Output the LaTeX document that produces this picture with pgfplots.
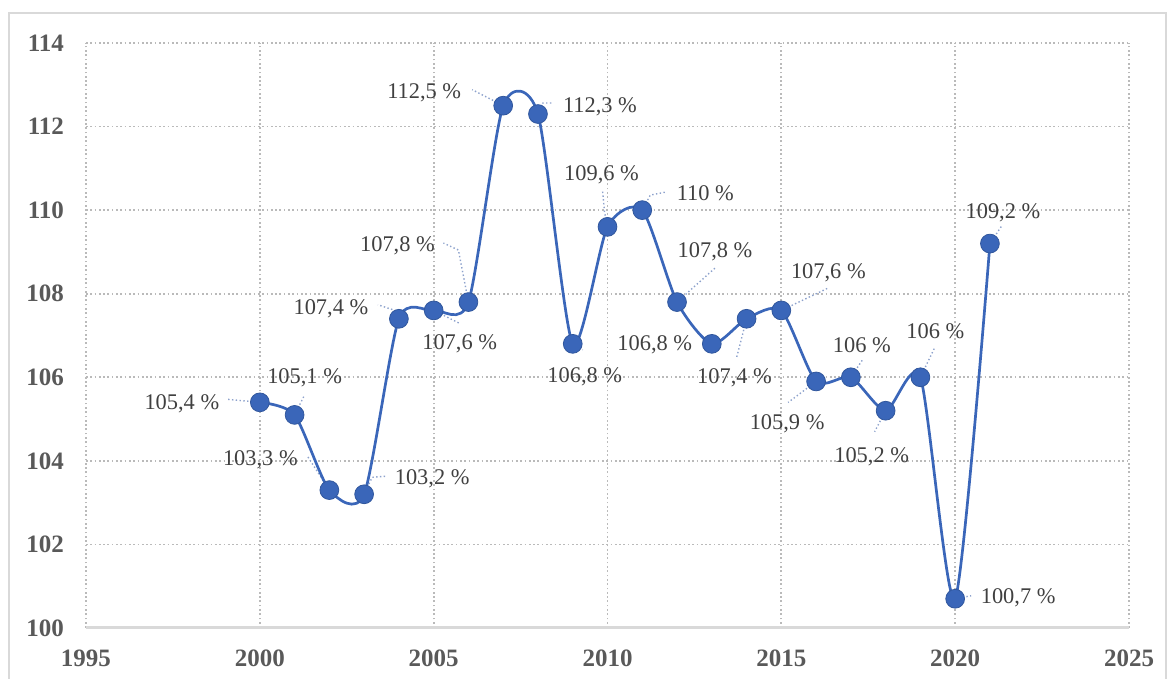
\documentclass[border=0pt]{standalone}
\usepackage{fontspec}
\setmainfont{Liberation Serif}
\usepackage{pgfplots}
\pgfplotsset{compat=1.18}
\definecolor{mblue}{HTML}{3A66B9}
\definecolor{tickgray}{HTML}{595959}
\definecolor{labgray}{HTML}{404040}
\definecolor{gridgray}{HTML}{BABABA}
\definecolor{leadc}{HTML}{8DA2CC}
\tikzset{
  lab/.style={font=\fontsize{11.2}{13}\selectfont, text=labgray, inner sep=0pt},
  leader/.style={color=leadc, line width=0.7pt, dash pattern=on 0.7pt off 1.2pt},
}
\begin{document}
\begin{tikzpicture}
\useasboundingbox (0,0) rectangle (584.5pt,339.5pt);
\draw[color=gray!30, line width=1pt] (4.5pt,-10pt) rectangle (583pt,333pt);
\begin{axis}[
  at={(43pt,25.5pt)}, anchor=origin,
  scale only axis, width=521.5pt, height=292.5pt,
  xmin=1995, xmax=2025, ymin=100, ymax=114,
  xtick={1995,2000,...,2025}, ytick={100,102,...,114},
  grid=major,
  major grid style={color=gridgray, line width=0.85pt, dash pattern=on 0.85pt off 1.3pt},
  axis line style={draw=none},
  major tick length=0pt,
  clip=false,
  /pgf/number format/assume math mode=true,
  /pgf/number format/1000 sep={},
  ticklabel style={font=\bfseries\fontsize{12.5}{14}\selectfont, text=tickgray},
  yticklabel style={xshift=-7.5pt},
  xticklabel style={yshift=-7.5pt},
]
\draw[color=gray!30, line width=1.5pt] (rel axis cs:0,0) -- (rel axis cs:1,0);
% leaders
\draw[leader] (axis cs:2000,105.4) -- ++(-16pt,1.5pt);
\draw[leader] (axis cs:2001,105.1) -- ++(5pt,10pt);
\draw[leader] (axis cs:2002,103.3) -- ++(-11pt,17pt);
\draw[leader] (axis cs:2003,103.2) -- ++(4pt,8.5pt) -- ++(6.5pt,0.5pt);
\draw[leader] (axis cs:2004,107.4) -- ++(-3pt,4.5pt) -- ++(-7.5pt,2.5pt);
\draw[leader] (axis cs:2005,107.6) -- ++(13pt,-6.5pt);
\draw[leader] (axis cs:2006,107.8) -- ++(-5pt,26pt) -- ++(-7.5pt,3.5pt);
\draw[leader] (axis cs:2007,112.5) -- ++(-15.5pt,8pt);
\draw[leader] (axis cs:2008,112.3) -- ++(2.5pt,5.5pt) -- ++(5pt,0pt);
\draw[leader] (axis cs:2009,106.8) -- ++(5pt,-3pt);
\draw[leader] (axis cs:2010,109.6) -- ++(-1.5pt,7.5pt) -- ++(-1pt,11pt);
\draw[leader] (axis cs:2011,110) -- ++(4pt,7.5pt) -- ++(7.5pt,1.5pt);
\draw[leader] (axis cs:2012,107.8) -- ++(19pt,17pt);
\draw[leader] (axis cs:2014,107.4) -- ++(-5pt,-19.5pt);
\draw[leader] (axis cs:2015,107.6) -- ++(23pt,11pt);
\draw[leader] (axis cs:2016,105.9) -- ++(-14pt,-10.5pt);
\draw[leader] (axis cs:2017,106) -- ++(6pt,9pt);
\draw[leader] (axis cs:2018,105.2) -- ++(-5.5pt,-10.5pt);
\draw[leader] (axis cs:2019,106) -- ++(7pt,14.5pt);
\draw[leader] (axis cs:2020,100.7) -- ++(8pt,1.5pt);
\draw[leader] (axis cs:2021,109.2) -- ++(6pt,9pt);
\addplot[color=mblue, line width=1.35pt, smooth, tension=0.42,
  mark=*, mark size=4.7pt, mark options={fill=mblue, draw=mblue!85!black, line width=0.4pt}]
coordinates {
(2000,105.4) (2001,105.1) (2002,103.3) (2003,103.2) (2004,107.4) (2005,107.6)
(2006,107.8) (2007,112.5) (2008,112.3) (2009,106.8) (2010,109.6) (2011,110)
(2012,107.8) (2013,106.8) (2014,107.4) (2015,107.6) (2016,105.9) (2017,106)
(2018,105.2) (2019,106) (2020,100.7) (2021,109.2)
};
% labels
\node[lab, xshift=-39pt, yshift=-0.5pt] at (axis cs:2000,105.4) {105,4 \%};
\node[lab, xshift=5pt, yshift=18.5pt] at (axis cs:2001,105.1) {105,1 \%};
\node[lab, xshift=-34.5pt, yshift=15pt] at (axis cs:2002,103.3) {103,3 \%};
\node[lab, xshift=34pt, yshift=8pt] at (axis cs:2003,103.2) {103,2 \%};
\node[lab, xshift=-34pt, yshift=5pt] at (axis cs:2004,107.4) {107,4 \%};
\node[lab, xshift=13pt, yshift=-16.5pt] at (axis cs:2005,107.6) {107,6 \%};
\node[lab, xshift=-35.5pt, yshift=28pt] at (axis cs:2006,107.8) {107,8 \%};
\node[lab, xshift=-39.5pt, yshift=6.5pt] at (axis cs:2007,112.5) {112,5 \%};
\node[lab, xshift=31pt, yshift=3.5pt] at (axis cs:2008,112.3) {112,3 \%};
\node[lab, xshift=6pt, yshift=-16.5pt] at (axis cs:2009,106.8) {106,8 \%};
\node[lab, xshift=-3pt, yshift=26pt] at (axis cs:2010,109.6) {109,6 \%};
\node[lab, xshift=31.5pt, yshift=8.5pt] at (axis cs:2011,110) {110 \%};
\node[lab, xshift=19pt, yshift=25pt] at (axis cs:2012,107.8) {107,8 \%};
\node[lab, xshift=-28.5pt, yshift=-0.5pt] at (axis cs:2013,106.8) {106,8 \%};
\node[lab, xshift=-6pt, yshift=-29.5pt] at (axis cs:2014,107.4) {107,4 \%};
\node[lab, xshift=23.5pt, yshift=19pt] at (axis cs:2015,107.6) {107,6 \%};
\node[lab, xshift=-14.5pt, yshift=-21pt] at (axis cs:2016,105.9) {105,9 \%};
\node[lab, xshift=5.5pt, yshift=16pt] at (axis cs:2017,106) {106 \%};
\node[lab, xshift=-7pt, yshift=-23pt] at (axis cs:2018,105.2) {105,2 \%};
\node[lab, xshift=7.5pt, yshift=23pt] at (axis cs:2019,106) {106 \%};
\node[lab, xshift=31.5pt, yshift=0.5pt] at (axis cs:2020,100.7) {100,7 \%};
\node[lab, xshift=6.5pt, yshift=15.5pt] at (axis cs:2021,109.2) {109,2 \%};
\end{axis}
\end{tikzpicture}
\end{document}
